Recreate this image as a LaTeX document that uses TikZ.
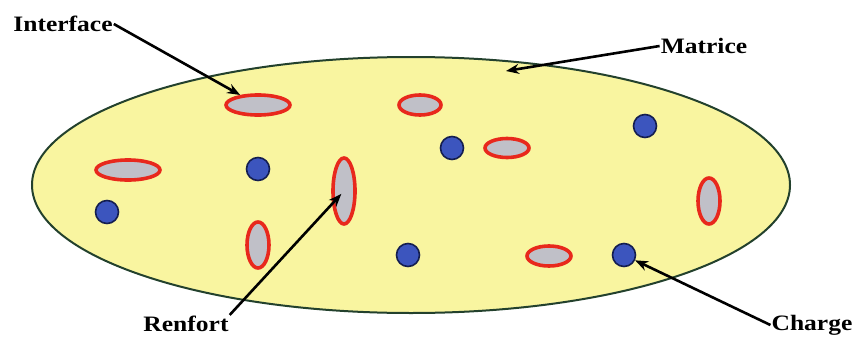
\documentclass[tikz,border=0pt]{standalone}
\usepackage{fontspec}
\setmainfont{Liberation Serif}
\usetikzlibrary{shapes.geometric,arrows.meta}
\definecolor{matfill}{RGB}{249,245,160}
\definecolor{matline}{RGB}{35,65,45}
\definecolor{fibred}{RGB}{232,40,28}
\definecolor{fibgray}{RGB}{192,192,200}
\definecolor{dotblue}{RGB}{60,85,190}
\definecolor{dotline}{RGB}{20,30,80}
\tikzset{
  fiber/.style={ellipse,draw=fibred,line width=3.6pt,fill=fibgray,inner sep=0pt},
  hfib/.style={fiber,minimum width=64pt,minimum height=20pt},
  vfib/.style={fiber,minimum width=22pt,minimum height=64pt},
  particle/.style={circle,draw=dotline,line width=1.6pt,fill=dotblue,minimum size=23pt,inner sep=0pt},
  lab/.style={font=\fontsize{22}{25}\selectfont\bfseries,inner sep=1pt},
  pointer/.style={-{Stealth[length=13pt,width=10pt]},line width=2.6pt,black}
}
\newcommand{\wlab}[1]{\scalebox{1.16}[1]{#1}}
\begin{document}
\begin{tikzpicture}[x=1pt,y=-1pt]
\useasboundingbox (0,0) rectangle (856,340);
\node[ellipse,draw=matline,line width=2pt,fill=matfill,minimum width=758pt,minimum height=256pt,inner sep=0pt] (mat) at (411,185) {};
% fibres
\node[hfib] (f1) at (258,105) {};
\node[hfib,minimum width=42pt] (f2) at (420,105) {};
\node[hfib,minimum width=44pt,minimum height=19pt] (f3) at (507,148) {};
\node[hfib] (f4) at (128,170) {};
\node[vfib,minimum height=66pt] (f5) at (344,191) {};
\node[vfib,minimum height=46pt] (f6) at (258,245) {};
\node[vfib,minimum height=46pt] (f7) at (709,201) {};
\node[hfib,minimum width=44pt] (f8) at (549,256) {};
% charges
\node[particle] (p1) at (258,169) {};
\node[particle] (p2) at (452,148) {};
\node[particle] (p3) at (645,126) {};
\node[particle] (p4) at (107,212) {};
\node[particle] (p5) at (408,255) {};
\node[particle] (p6) at (624,255) {};
% labels
\node[lab] (li) at (63,24) {\wlab{Interface}};
\node[lab] (lm) at (704,46) {\wlab{Matrice}};
\node[lab] (lr) at (186,324) {\wlab{Renfort}};
\node[lab] (lc) at (812,325) {\wlab{Charge}};
\coordinate (mt) at (506,71);
% arrows
\draw[pointer] (li.east) -- (f1) ;
\draw[pointer] (lm.west) -- (mt);
\draw[pointer,shorten >=4pt] (lr.north east) -- (f5.center);
\draw[pointer] (lc.west) -- (p6);
\end{tikzpicture}
\end{document}
